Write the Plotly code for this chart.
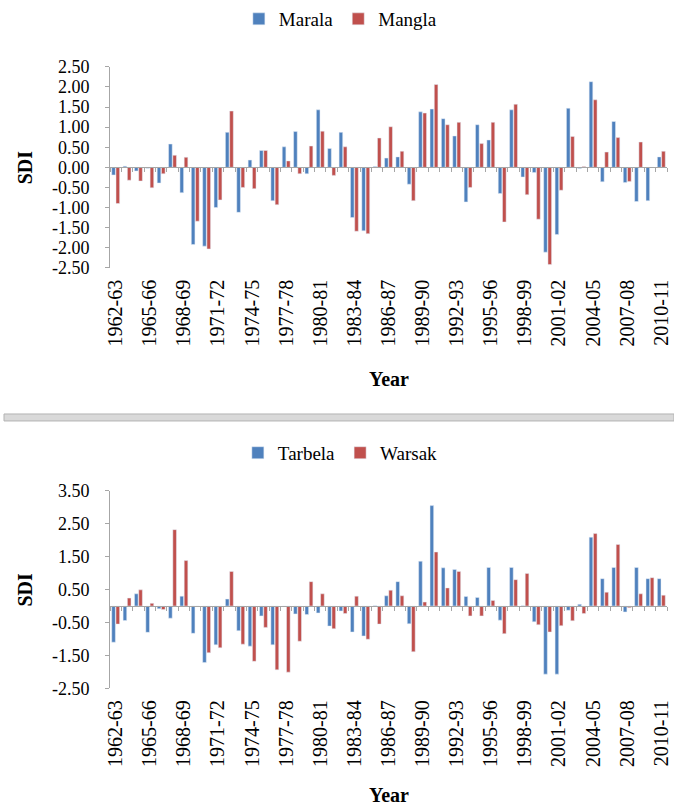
import plotly.graph_objects as go

seasons = ["1962-63", "1963-64", "1964-65", "1965-66", "1966-67", "1967-68", "1968-69",
           "1969-70", "1970-71", "1971-72", "1972-73", "1973-74", "1974-75", "1975-76",
           "1976-77", "1977-78", "1978-79", "1979-80", "1980-81", "1981-82", "1982-83",
           "1983-84", "1984-85", "1985-86", "1986-87", "1987-88", "1988-89", "1989-90",
           "1990-91", "1991-92", "1992-93", "1993-94", "1994-95", "1995-96", "1996-97",
           "1997-98", "1998-99", "1999-00", "2000-01", "2001-02", "2002-03", "2003-04",
           "2004-05", "2005-06", "2006-07", "2007-08", "2008-09", "2009-10", "2010-11"]

marala = [-0.19, 0.03, -0.09, -0.02, -0.39, 0.58, -0.63, -1.92, -1.96, -1.00,
          0.87, -1.12, 0.18, 0.42, -0.83, 0.51, 0.89, -0.16, 1.43, 0.47,
          0.87, -1.25, -1.58, 0.02, 0.23, 0.26, -0.42, 1.38, 1.45, 1.21,
          0.78, -0.86, 1.06, 0.68, -0.65, 1.43, -0.24, -0.13, -2.11, -1.67,
          1.47, -0.03, 2.13, -0.36, 1.14, -0.38, -0.85, -0.83, 0.26]

mangla = [-0.90, -0.32, -0.34, -0.51, -0.16, 0.30, 0.25, -1.34, -2.03, -0.81,
          1.40, -0.50, -0.53, 0.42, -0.93, 0.16, -0.16, 0.53, 0.90, -0.20,
          0.51, -1.59, -1.65, 0.73, 1.01, 0.40, -0.83, 1.35, 2.06, 1.06,
          1.12, -0.50, 0.59, 1.12, -1.36, 1.57, -0.68, -1.29, -2.42, -0.57,
          0.77, 0.02, 1.68, 0.38, 0.74, -0.35, 0.63, 0.00, 0.40]

tarbela = [-1.10, -0.44, 0.37, -0.80, -0.08, -0.37, 0.30, -0.83, -1.72, -1.18,
           0.21, -0.75, -1.22, -0.30, -1.18, -0.02, -0.24, -0.26, -0.21, -0.61,
           -0.15, -0.79, -0.91, 0.01, 0.31, 0.74, -0.54, 1.36, 3.05, 1.16,
           1.11, 0.29, 0.26, 1.17, -0.43, 1.17, 0.01, -0.48, -2.07, -2.07,
           -0.13, 0.05, 2.09, 0.83, 1.17, -0.18, 1.17, 0.83, 0.83]

warsak = [-0.55, 0.24, 0.49, 0.08, -0.11, 2.32, 1.38, -0.02, -1.42, -1.27,
          1.05, -1.16, -1.68, -0.65, -1.94, -2.01, -1.07, 0.74, 0.37, -0.69,
          -0.23, 0.30, -1.01, -0.55, 0.48, 0.31, -1.39, 0.12, 1.64, 0.55,
          1.05, -0.30, -0.30, 0.17, -0.84, 0.80, 0.99, -0.57, -0.79, -0.60,
          -0.45, -0.23, 2.20, 0.42, 1.87, -0.05, 0.37, 0.86, 0.33]

top_ticks = [-2.5, -2.0, -1.5, -1.0, -0.5, 0.0, 0.5, 1.0, 1.5, 2.0, 2.5]
bottom_ticks = [-2.5, -1.5, -0.5, 0.5, 1.5, 2.5, 3.5]
label_step = 3

BLUE = "#4F81BD"
RED = "#C0504D"
AXIS = "#a6a6a6"
FONT = "Liberation Serif"

W, H = 674, 807
xdom = [110 / W, 667 / W]
top_dom = [1 - 266.5 / H, 1 - 65 / H]
bot_dom = [1 - 688 / H, 1 - 490 / H]
top_range = [top_ticks[0], top_ticks[-1]]
bot_range = [bottom_ticks[0], bottom_ticks[-1]]


def zero_pos(dom, rng):
    return dom[0] + (dom[1] - dom[0]) * (0 - rng[0]) / (rng[1] - rng[0])


idx = list(range(len(seasons)))
xr = [-0.5, len(seasons) - 0.5]

fig = go.Figure()
fig.add_trace(go.Bar(x=idx, y=marala, name="Marala", marker_color=BLUE,
                     xaxis="x", yaxis="y", legend="legend"))
fig.add_trace(go.Bar(x=idx, y=mangla, name="Mangla", marker_color=RED,
                     xaxis="x", yaxis="y", legend="legend"))
fig.add_trace(go.Bar(x=idx, y=tarbela, name="Tarbela", marker_color=BLUE,
                     xaxis="x2", yaxis="y2", legend="legend2"))
fig.add_trace(go.Bar(x=idx, y=warsak, name="Warsak", marker_color=RED,
                     xaxis="x2", yaxis="y2", legend="legend2"))
fig.add_trace(go.Scatter(x=[], y=[], xaxis="x3", yaxis="y", showlegend=False, hoverinfo="skip"))
fig.add_trace(go.Scatter(x=[], y=[], xaxis="x4", yaxis="y2", showlegend=False, hoverinfo="skip"))

tickfont = dict(family=FONT, size=20, color="#000")
yfont = dict(family=FONT, size=18, color="#000")

xlab = dict(domain=xdom, range=xr, tickmode="array",
            tickvals=idx[::label_step], ticktext=seasons[::label_step],
            tickangle=-90, tickfont=tickfont, showline=False, showgrid=False,
            zeroline=False, ticks="", ticklabelstandoff=7, automargin=False)
zero_axis = dict(range=xr, tickmode="linear", tick0=-0.5, dtick=1, ticks="outside",
                 ticklen=4, tickcolor=AXIS, showticklabels=False, showline=True,
                 linecolor=AXIS, linewidth=1, showgrid=False, zeroline=False,
                 anchor="free", automargin=False)


def yax(dom, rng, ticks, anchor):
    return dict(domain=dom, range=rng, anchor=anchor, tickmode="array", tickvals=ticks,
                ticktext=[f"{v:.2f}" for v in ticks], tickfont=yfont, showline=True,
                linecolor=AXIS, ticks="outside", ticklen=4, tickcolor=AXIS,
                showgrid=False, zeroline=False, ticklabelstandoff=12, automargin=False)


fig.update_layout(
    width=W, height=H, margin=dict(l=0, r=0, t=0, b=0, pad=0),
    autosize=False,
    paper_bgcolor="white", plot_bgcolor="white",
    font=dict(family=FONT, color="#000"),
    barmode="group", bargap=0.25, bargroupgap=0.15,
    xaxis=dict(anchor="y", **xlab),
    xaxis2=dict(anchor="y2", **xlab),
    xaxis3=dict(overlaying="x", position=zero_pos(top_dom, top_range), **zero_axis),
    xaxis4=dict(overlaying="x2", position=zero_pos(bot_dom, bot_range), **zero_axis),
    yaxis=yax(top_dom, top_range, top_ticks, "x"),
    yaxis2=yax(bot_dom, bot_range, bottom_ticks, "x2"),
    legend=dict(orientation="h", x=0.505, y=1 - 17 / H, xanchor="center", yanchor="middle",
                font=dict(family=FONT, size=19), itemwidth=30, bgcolor="rgba(0,0,0,0)"),
    legend2=dict(orientation="h", x=0.505, y=1 - 452 / H, xanchor="center", yanchor="middle",
                 font=dict(family=FONT, size=19), itemwidth=30, bgcolor="rgba(0,0,0,0)"),
    showlegend=True,
    annotations=[
        dict(text="<b>SDI</b>", textangle=-90, x=25 / W, y=sum(top_dom) / 2, xref="paper",
             yref="paper", xanchor="center", yanchor="middle", showarrow=False,
             font=dict(family=FONT, size=20)),
        dict(text="<b>SDI</b>", textangle=-90, x=25 / W, y=sum(bot_dom) / 2, xref="paper",
             yref="paper", xanchor="center", yanchor="middle", showarrow=False,
             font=dict(family=FONT, size=20)),
        dict(text="<b>Year</b>", x=sum(xdom) / 2, y=1 - 378 / H, xref="paper", yref="paper",
             xanchor="center", yanchor="middle", showarrow=False,
             font=dict(family=FONT, size=20)),
        dict(text="<b>Year</b>", x=sum(xdom) / 2, y=1 - 795 / H, xref="paper", yref="paper",
             xanchor="center", yanchor="middle", showarrow=False,
             font=dict(family=FONT, size=20)),
    ],
    shapes=[
        dict(type="rect", xref="paper", yref="paper", x0=4 / W, x1=1,
             y0=1 - 420 / H, y1=1 - 413 / H, fillcolor="#d9d9d9",
             line=dict(color="#b3b3b3", width=1)),
    ],
)

fig.write_html("out.html", config={"displayModeBar": False},
               post_script="document.body.style.margin='0px';")
